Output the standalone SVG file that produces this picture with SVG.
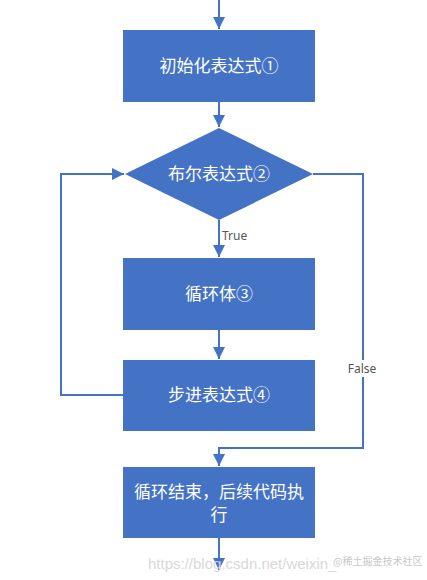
<svg xmlns="http://www.w3.org/2000/svg" width="427" height="580" viewBox="0 0 427 580">
<style>
.n{fill:#4472C4}
.t{fill:#fff;font-family:"Noto Sans CJK SC","Microsoft YaHei",sans-serif;font-size:17px;text-anchor:middle}
.c{fill:none;stroke:#4472C4;stroke-width:2}
.l{fill:#555;font-family:"Noto Sans","Liberation Sans",sans-serif;font-size:12px}
.w{fill:#d8d8d8;font-family:"Liberation Sans",sans-serif;font-size:15px}
</style>
<defs>
<marker id="a" viewBox="0 0 10 10" refX="10" refY="5" markerWidth="6" markerHeight="6" orient="auto" markerUnits="strokeWidth">
<path d="M0,0 L10,5 L0,10 z" fill="#4472C4"/>
</marker>
</defs>
<rect width="427" height="580" fill="#fff"/>
<g id="connectors">
<path class="c" d="M219,0 V29" marker-end="url(#a)"/>
<path class="c" d="M219,102 V127" marker-end="url(#a)"/>
<path class="c" d="M219,220 V257" marker-end="url(#a)"/>
<path class="c" d="M219,330 V359" marker-end="url(#a)"/>
<path class="c" d="M123,395 H61 V174 H124" marker-end="url(#a)"/>
<path class="c" d="M313,174 H363 V448 H219 V466" marker-end="url(#a)"/>
<path class="c" d="M219,538 V570" marker-end="url(#a)"/>
<rect x="345" y="360" width="34" height="17" fill="#fff"/>
<text class="l" x="362" y="373" text-anchor="middle">False</text>
<text class="l" x="222" y="240">True</text>
</g>
<g id="init"><rect class="n" x="123" y="30" width="192" height="72"/><text class="t" x="219" y="72">初始化表达式①</text></g>
<g id="cond"><polygon class="n" points="219,128 313,174 219,220 125,174"/><text class="t" x="219" y="180">布尔表达式②</text></g>
<g id="body"><rect class="n" x="123" y="258" width="192" height="72"/><text class="t" x="219" y="300">循环体③</text></g>
<g id="step"><rect class="n" x="123" y="360" width="192" height="71"/><text class="t" x="219" y="401">步进表达式④</text></g>
<g id="end"><rect class="n" x="123" y="467" width="192" height="71"/><text class="t" x="219" y="498">循环结束，后续代码执</text><text class="t" x="219" y="521">行</text></g>
<text class="w" x="148" y="569">https://blog.csdn.net/weixin_</text>
<text x="333" y="565" style="fill:#c8c8c8;font-family:'Noto Sans CJK SC',sans-serif;font-size:10px">@稀土掘金技术社区</text>
</svg>
